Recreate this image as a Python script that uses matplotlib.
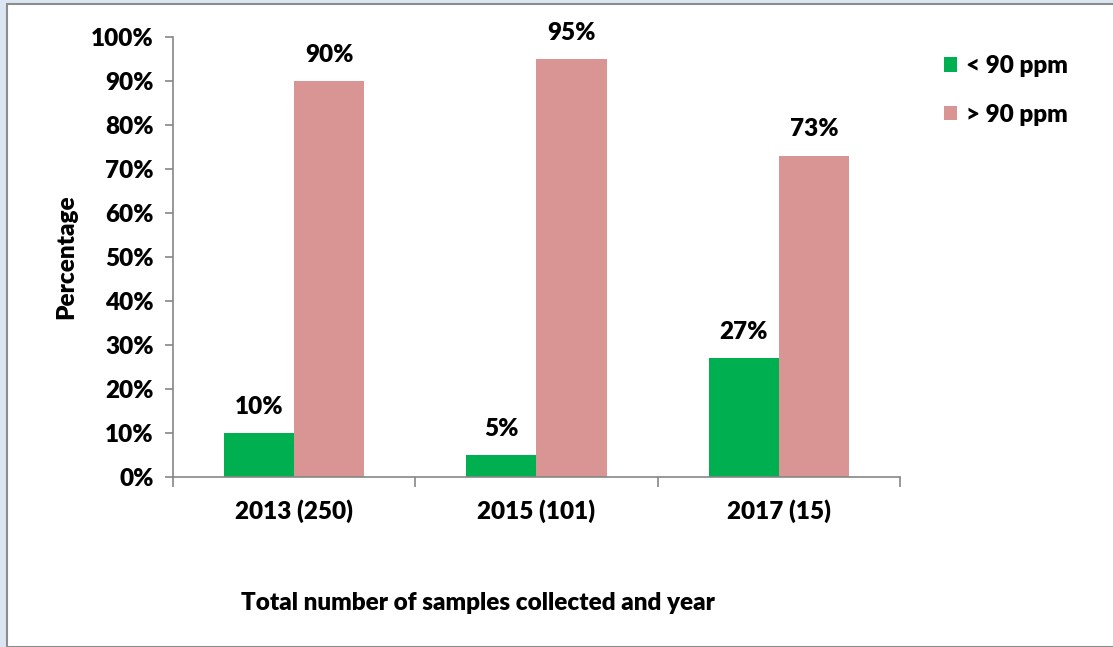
import numpy as np
import matplotlib
matplotlib.use('Agg')
import matplotlib.pyplot as plt
from matplotlib.patches import Rectangle

# chart data
categories = ['2013 (250)', '2015 (101)', '2017 (15)']
below_90 = [10, 5, 27]
above_90 = [90, 95, 73]
series_names = ['< 90 ppm', '> 90 ppm']
y_ticks = [0, 10, 20, 30, 40, 50, 60, 70, 80, 90, 100]

green = '#00b050'
pink = '#d99594'
spine_gray = '#868686'
fs = 17.5
wt = 800

plt.rcParams['font.family'] = ['Lato', 'DejaVu Sans']
plt.rcParams['font.weight'] = wt

fig = plt.figure(figsize=(11.13, 6.47), dpi=100)
fig.patch.set_facecolor('#dce6f2')

# white chart area with gray frame
W, H = 1113, 647
fig.patches.append(Rectangle((7 / W, 0), 1.2, 1 - 4 / H, transform=fig.transFigure,
                             facecolor='white', edgecolor='#8c8c8c', linewidth=1.5, zorder=-10))

ax = fig.add_axes([173 / W, 1 - 477 / H, (900 - 173) / W, (477 - 37) / H])
ax.set_facecolor('none')

x = np.arange(len(categories))
bw = 0.29
ax.bar(x - bw / 2, below_90, bw, color=green, label=series_names[0], zorder=2)
ax.bar(x + bw / 2, above_90, bw, color=pink, label=series_names[1], zorder=2)

for xi, v in zip(x, below_90):
    ax.text(xi - bw / 2, v + 3.5, f'{v}%', ha='center', va='bottom', fontsize=fs, fontweight=wt)
for xi, v in zip(x, above_90):
    ax.text(xi + bw / 2, v + 3.5, f'{v}%', ha='center', va='bottom', fontsize=fs, fontweight=wt)

ax.set_xlim(-0.5, len(categories) - 0.5)
ax.set_ylim(0, 100)
ax.set_yticks(y_ticks)
ax.set_yticklabels([f'{t}%' for t in y_ticks], fontsize=fs, fontweight=wt)
ax.set_xticks(x)
ax.set_xticklabels(categories, fontsize=fs, fontweight=wt)
ax.tick_params(axis='x', length=0, pad=16)
ax.set_xticks(np.arange(-0.5, len(categories)), minor=True)
ax.tick_params(axis='x', which='minor', length=7, color=spine_gray, width=1.2)
ax.tick_params(axis='y', length=6, color=spine_gray, width=1.2, pad=8)

for s in ['top', 'right']:
    ax.spines[s].set_visible(False)
for s in ['left', 'bottom']:
    ax.spines[s].set_color(spine_gray)
    ax.spines[s].set_linewidth(1.2)

ax.set_ylabel('Percentage', fontsize=fs, fontweight=wt, labelpad=10)
fig.text(478 / W, 1 - 603 / H, 'Total number of samples collected and year',
         ha='center', va='center', fontsize=fs, fontweight=wt)

fig.legend(loc='upper left', bbox_to_anchor=(922 / W, 1 - 33 / H), frameon=False,
           handlelength=0.55, handleheight=0.55, labelspacing=1.1,
           handletextpad=0.35, prop={'weight': wt, 'size': fs})

fig.savefig('out.png', dpi=100, facecolor=fig.get_facecolor())
